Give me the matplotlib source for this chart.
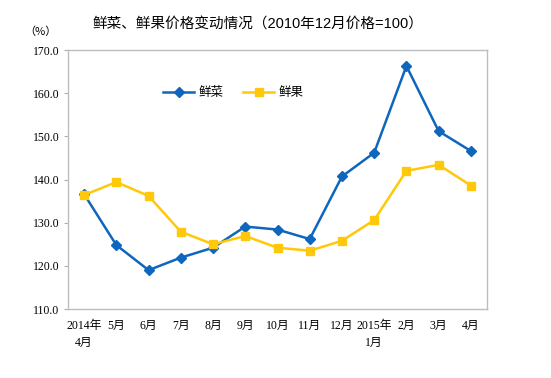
import numpy as np
import matplotlib.pyplot as plt

# data
months = ["2014年\n4月", "5月", "6月", "7月", "8月", "9月", "10月", "11月",
          "12月", "2015年\n1月", "2月", "3月", "4月"]
vegetables = [136.6, 124.8, 119.0, 121.9, 124.2, 129.1, 128.4, 126.2,
              140.7, 146.2, 166.3, 151.2, 146.6]
fruits = [136.4, 139.4, 136.2, 127.9, 125.0, 126.9, 124.2, 123.5,
          125.8, 130.6, 142.0, 143.4, 138.6]
yticks = [110, 120, 130, 140, 150, 160, 170]

serif = ["Liberation Serif", "Noto Sans CJK SC"]
sans = ["Liberation Sans", "Noto Sans CJK SC"]

fig = plt.figure(figsize=(5.51, 3.78), dpi=100)
ax = fig.add_axes([68 / 551, 1 - 309 / 378, (487 - 68) / 551, (309 - 50) / 378])

x = np.arange(len(months))
ax.plot(x, vegetables, color="#0F66BD", lw=1.8, marker="D", ms=5, label="鲜菜")
ax.plot(x, fruits, color="#FFC80A", lw=1.8, marker="s", ms=6, label="鲜果")

ax.set_xlim(-0.5, len(months) - 0.5)
ax.set_ylim(110, 170)
ax.set_yticks(yticks)
ax.set_yticklabels([f"{v:.1f}" for v in yticks], family=serif, fontsize=8.5)
ax.set_xticks(x)
ax.set_xticklabels(months, family=serif, fontsize=8.5, linespacing=1.5)
ax.tick_params(axis="x", length=0, pad=8)
ax.tick_params(axis="y", length=3, color="#B0B0B0", pad=3)

for s in ax.spines.values():
    s.set_color("#BDBDBD")
    s.set_linewidth(1)

leg = ax.legend(loc="upper left", bbox_to_anchor=(0.2, 0.9), ncol=2, frameon=False,
                prop={"family": sans, "size": 9}, handlelength=2.5,
                columnspacing=1.6, handletextpad=0.3)

fig.text(258 / 551, 1 - 25 / 378, "鲜菜、鲜果价格变动情况（2010年12月价格=100）",
         ha="center", va="center", family=sans, fontsize=10.5)
fig.text(40 / 551, 1 - 32 / 378, "（%）", ha="center", va="center",
         family=["Noto Sans CJK SC"], fontsize=8)

fig.savefig("out.png", dpi=100)
